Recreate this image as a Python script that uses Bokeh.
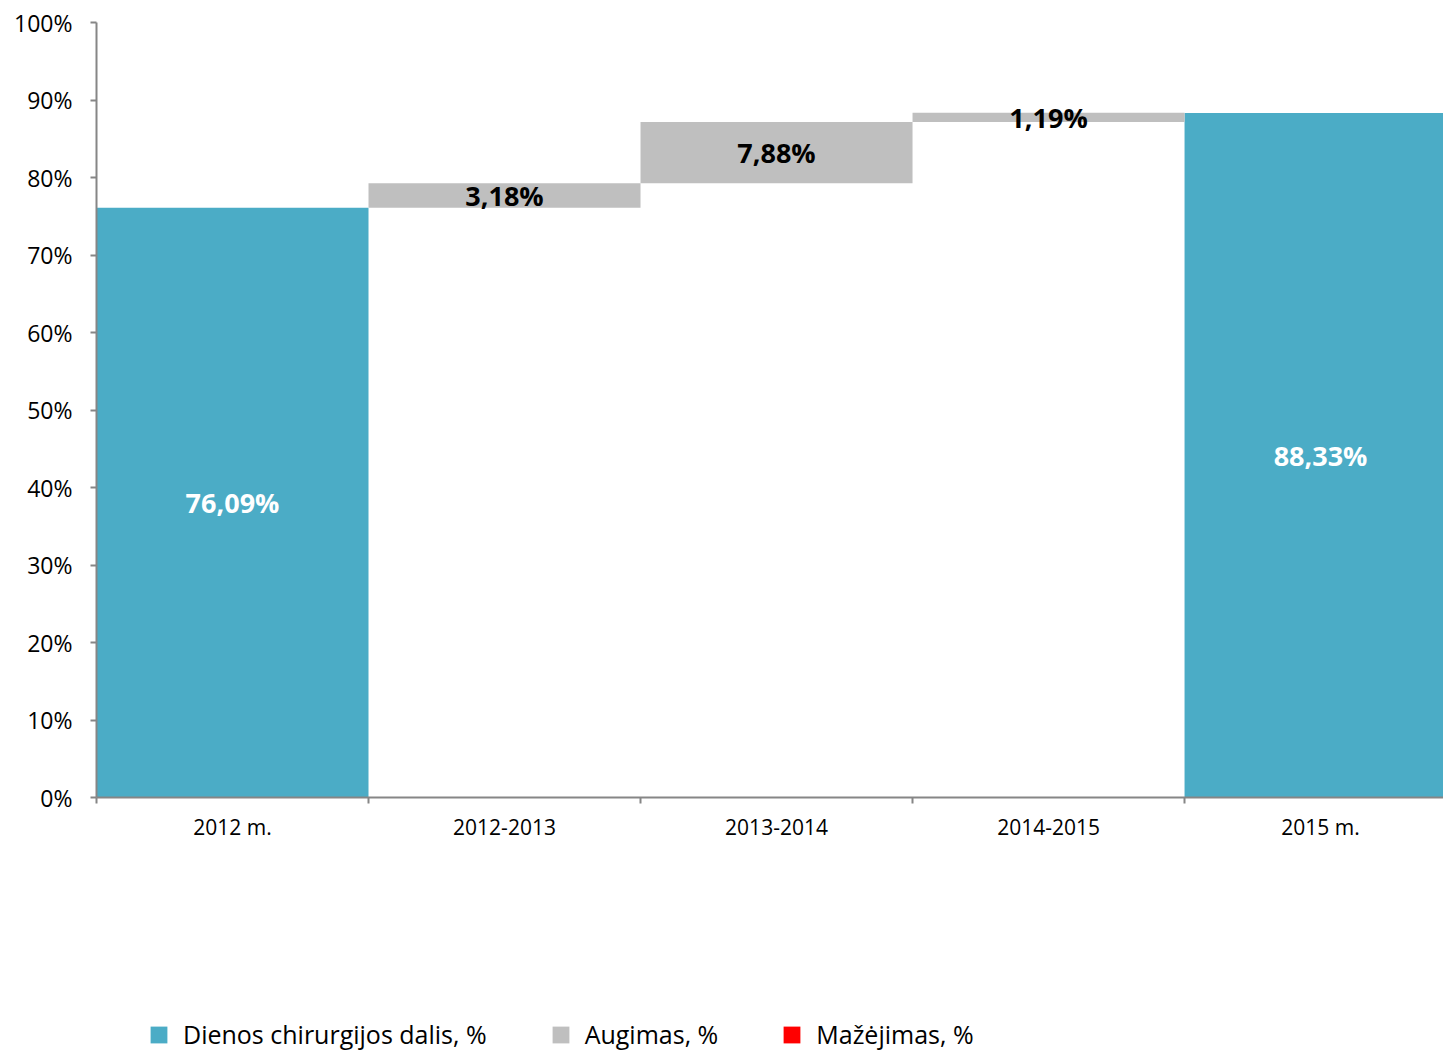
from bokeh.plotting import figure
from bokeh.layouts import column
from bokeh.models import (ColumnDataSource, Range1d, FixedTicker, NumeralTickFormatter,
                          Legend, LegendItem)
from bokeh.core.properties import value
from bokeh.embed import file_html
from bokeh.resources import INLINE

# ---- data ----
categories = ["2012 m.", "2012-2013", "2013-2014", "2014-2015", "2015 m."]
start_value = 76.09      # Dienos chirurgijos dalis 2012 m., %
end_value = 88.33        # Dienos chirurgijos dalis 2015 m., %
growth = [3.18, 7.88, 1.19]   # Augimas, % (2012-2013, 2013-2014, 2014-2015)
decline = []                  # Mažėjimas, % (none)

legend_labels = ["Dienos chirurgijos dalis, %", "Augimas, %", "Mažėjimas, %"]

BLUE = "#4BACC6"
GRAY = "#BFBFBF"
RED = "#FF0000"
FONT = "Open Sans"

def fmt(v):
    return ("%.2f" % v).replace(".", ",") + "%"

centers = [i + 0.5 for i in range(len(categories))]

# totals (blue)
tot_src = ColumnDataSource(dict(
    x=[centers[0], centers[-1]],
    top=[start_value / 100, end_value / 100],
    bottom=[0, 0],
    ymid=[start_value / 200, end_value / 200],
    label=[fmt(start_value), fmt(end_value)],
))

# growth (gray floating)
g_x, g_bottom, g_top, g_mid, g_lab = [], [], [], [], []
level = start_value
for i, g in enumerate(growth):
    g_x.append(centers[i + 1])
    g_bottom.append(level / 100)
    g_top.append((level + g) / 100)
    g_mid.append((level + g / 2) / 100)
    g_lab.append(fmt(g))
    level += g
gr_src = ColumnDataSource(dict(x=g_x, bottom=g_bottom, top=g_top, ymid=g_mid, label=g_lab))
dec_src = ColumnDataSource(dict(x=[], bottom=[], top=[]))

p = figure(width=1443, height=1000, output_backend="svg", toolbar_location=None,
           x_range=Range1d(0, 4.952), y_range=Range1d(0, 1.0),
           min_border_left=96, min_border_top=22, min_border_right=0,
           min_border_bottom=203)
p.outline_line_color = None
p.xgrid.grid_line_color = None
p.ygrid.grid_line_color = None
p.background_fill_color = "white"
p.border_fill_color = "white"

p.vbar(x="x", top="top", bottom="bottom", width=1.0, source=tot_src,
       fill_color=BLUE, line_color=None)
p.vbar(x="x", top="top", bottom="bottom", width=1.0, source=gr_src,
       fill_color=GRAY, line_color=None)
p.vbar(x="x", top="top", bottom="bottom", width=1.0, source=dec_src,
       fill_color=RED, line_color=None)

p.text(x="x", y="ymid", text="label", source=tot_src, text_align="center",
       text_baseline="middle", text_font=value(FONT), text_font_style="bold",
       text_font_size="27px", text_color="white")
p.text(x="x", y="ymid", text="label", source=gr_src, text_align="center",
       text_baseline="middle", text_font=value(FONT), text_font_style="bold",
       text_font_size="27px", text_color="black")

# axes
AX = "#868686"
p.yaxis.ticker = FixedTicker(ticks=[i / 10 for i in range(11)])
p.yaxis.formatter = NumeralTickFormatter(format="0%")
p.yaxis.axis_line_color = AX
p.yaxis.axis_line_width = 2
p.yaxis.major_tick_line_color = AX
p.yaxis.major_tick_line_width = 2
p.yaxis.major_tick_out = 6
p.yaxis.major_tick_in = 0
p.yaxis.minor_tick_line_color = None
p.yaxis.major_label_standoff = 18
p.yaxis.major_label_text_font = FONT
p.yaxis.major_label_text_font_size = "23px"
p.yaxis.major_label_text_color = "black"

p.xaxis.ticker = FixedTicker(ticks=centers, minor_ticks=list(range(len(categories))))
p.xaxis.major_label_overrides = {c: lab for c, lab in zip(centers, categories)}
p.xaxis.axis_line_color = AX
p.xaxis.axis_line_width = 2
p.xaxis.major_tick_line_color = None
p.xaxis.major_tick_out = 0
p.xaxis.major_tick_in = 0
p.xaxis.minor_tick_line_color = AX
p.xaxis.minor_tick_line_width = 2
p.xaxis.minor_tick_out = 6
p.xaxis.minor_tick_in = 0
p.xaxis.major_label_standoff = 9
p.xaxis.major_label_text_font = FONT
p.xaxis.major_label_text_font_size = "21px"
p.xaxis.major_label_text_color = "black"

# ---- legend strip (proxy renderers sit outside its visible range) ----
lg = figure(width=1443, height=51, output_backend="svg", toolbar_location=None,
            x_range=Range1d(0, 1), y_range=Range1d(0, 1),
            x_axis_location=None, y_axis_location=None,
            min_border=0, min_border_left=0, min_border_right=0,
            min_border_top=0, min_border_bottom=0)
lg.outline_line_color = None
lg.xgrid.grid_line_color = None
lg.ygrid.grid_line_color = None
legend_colors = [BLUE, GRAY, RED]
items = []
for lab, col in zip(legend_labels, legend_colors):
    proxy = ColumnDataSource(dict(x=[-10], top=[-10], bottom=[-11]))
    r = lg.vbar(x="x", top="top", bottom="bottom", width=1, source=proxy,
                fill_color=col, line_color=None)
    items.append(LegendItem(label=lab, renderers=[r]))
legend = Legend(items=items, orientation="horizontal", location=(52, 0), padding=0, margin=0,
                spacing=63, glyph_width=21, glyph_height=21, label_standoff=14,
                label_text_font=FONT, label_text_font_size="25px", label_text_color="black",
                border_line_color=None, background_fill_alpha=0)
lg.add_layout(legend, "center")

layout = column(p, lg, spacing=0)
open("out.html", "w").write(file_html(layout, INLINE))
